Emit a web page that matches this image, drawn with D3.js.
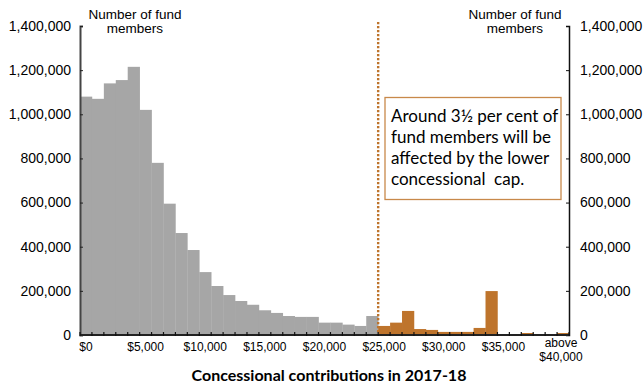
<!DOCTYPE html>
<html>
<head>
<meta charset="utf-8">
<script src="https://cdn.jsdelivr.net/npm/d3@7"></script>
<style>
  html, body { margin: 0; padding: 0; background: #fff; }
  svg { display: block; }
  text { font-family: "Liberation Sans", Arial, sans-serif; fill: #000; }
</style>
</head>
<body>
<svg id="chart" width="644" height="385"></svg>
<script>
// Contribution bins ($1,000 wide), last bin is the open-ended top bracket
const categories = [
  "$0", "$1,000", "$2,000", "$3,000", "$4,000", "$5,000", "$6,000", "$7,000", "$8,000", "$9,000",
  "$10,000", "$11,000", "$12,000", "$13,000", "$14,000", "$15,000", "$16,000", "$17,000", "$18,000", "$19,000",
  "$20,000", "$21,000", "$22,000", "$23,000", "$24,000", "$25,000", "$26,000", "$27,000", "$28,000", "$29,000",
  "$30,000", "$31,000", "$32,000", "$33,000", "$34,000", "$35,000", "$36,000", "$37,000", "$38,000", "$39,000",
  "above $40,000"
];

// Number of fund members in each bin
const members = [
  1080000, 1070000, 1140000, 1155000, 1215000, 1020000, 780000, 595000, 462000, 385000,
  285000, 222000, 181000, 154000, 137000, 112000, 100000, 86000, 82000, 82000,
  56000, 56000, 47000, 41000, 86000, 41000, 56000, 109000, 27000, 23000,
  14000, 14000, 14000, 32000, 199000, 0, 0, 9000, 4500, 0,
  9000
];

// Labelled bins on the x axis
const xTickBins = ["$0", "$5,000", "$10,000", "$15,000", "$20,000", "$25,000", "$30,000", "$35,000", "above $40,000"];
const yTicks = [0, 200000, 400000, 600000, 800000, 1000000, 1200000, 1400000];

// Bins at or above the lower concessional cap
const capBin = "$25,000";

const grey = "#a6a6a6";
const orange = "#be742c";

const svg = d3.select("#chart");
const plotLeft = 80, plotRight = 569, plotTop = 26, plotBottom = 335;

const x = d3.scaleBand().domain(categories).range([plotLeft, plotRight]).padding(0);
const y = d3.scaleLinear().domain([0, 1400000]).range([plotBottom, plotTop]);
const capIndex = categories.indexOf(capBin);

// Bars
svg.append("g").selectAll("rect")
  .data(categories.map((c, i) => ({ c, i, v: members[i] })))
  .join("rect")
  .attr("x", d => x(d.c))
  .attr("y", d => y(d.v))
  .attr("width", x.bandwidth() + 0.3)
  .attr("height", d => y(0) - y(d.v))
  .attr("fill", d => d.i >= capIndex ? orange : grey);

// Cap marker
svg.append("line")
  .attr("x1", x(capBin)).attr("x2", x(capBin))
  .attr("y1", 22).attr("y2", plotBottom)
  .attr("stroke", orange).attr("stroke-width", 2.4)
  .attr("stroke-dasharray", "2.2,1.8");

// Left y axis
const yLeft = svg.append("g").attr("transform", `translate(${plotLeft},0)`)
  .call(d3.axisRight(y).tickValues(yTicks).tickSize(3).tickFormat(""));
yLeft.select(".domain").attr("stroke", "#444").attr("stroke-width", 2);
yLeft.selectAll(".tick line").attr("stroke", "#222");
svg.append("g").selectAll("text").data(yTicks).join("text")
  .attr("x", 71).attr("y", d => y(d)).attr("dy", "0.35em")
  .attr("text-anchor", "end").style("font-size", "14px")
  .text(d3.format(","));

// Right y axis
const yRight = svg.append("g").attr("transform", `translate(${plotRight},0)`)
  .call(d3.axisLeft(y).tickValues(yTicks).tickSize(3).tickFormat(""));
yRight.select(".domain").attr("stroke", "#111").attr("stroke-width", 1.5);
yRight.selectAll(".tick line").attr("stroke", "#111");
svg.append("g").selectAll("text").data(yTicks).join("text")
  .attr("x", 580).attr("y", d => y(d)).attr("dy", "0.35em")
  .attr("text-anchor", "start").style("font-size", "14px")
  .text(d3.format(","));

// X axis: ticks at every bin edge
const edges = categories.map(c => x(c)).concat([plotRight]);
svg.append("line")
  .attr("x1", plotLeft).attr("x2", plotRight).attr("y1", plotBottom).attr("y2", plotBottom)
  .attr("stroke", "#222").attr("stroke-width", 2);
svg.append("g").selectAll("line").data(edges).join("line")
  .attr("x1", d => d).attr("x2", d => d)
  .attr("y1", plotBottom - 3).attr("y2", plotBottom + 1)
  .attr("stroke", "#111").attr("stroke-width", 1.2);

// X tick labels
const xl = svg.append("g").selectAll("text").data(xTickBins).join("text")
  .attr("x", d => x(d) + x.bandwidth() / 2)
  .attr("y", 351)
  .attr("text-anchor", "middle").style("font-size", "12px");
xl.each(function (d) {
  const t = d3.select(this);
  if (d.startsWith("above")) {
    t.attr("y", 347);
    t.append("tspan").attr("x", x(d) + x.bandwidth() / 2 - 2).text("above");
    t.append("tspan").attr("x", x(d) + x.bandwidth() / 2 - 2).attr("dy", 14).text(d.replace("above ", ""));
  } else {
    t.text(d);
  }
});

// Axis titles
function axisTitle(cx) {
  const t = svg.append("text").attr("text-anchor", "middle").style("font-size", "13.5px");
  t.append("tspan").attr("x", cx).attr("y", 19).text("Number of fund");
  t.append("tspan").attr("x", cx).attr("y", 32.5).text("members");
}
axisTitle(135);
axisTitle(515);

svg.append("text")
  .attr("x", 329).attr("y", 381)
  .attr("text-anchor", "middle")
  .style("font-family", "Lato, 'Open Sans', sans-serif")
  .style("font-weight", "bold").style("font-size", "16px")
  .text("Concessional contributions in 2017-18");

// Annotation box
svg.append("rect")
  .attr("x", 385).attr("y", 97.5).attr("width", 176).attr("height", 102)
  .attr("fill", "#fff").attr("stroke", "#c8894a").attr("stroke-width", 1.3);
const note = ["Around 3\u00bd per cent of", "fund members will be", "affected by the lower", "concessional  cap."];
svg.append("g").selectAll("text").data(note).join("text")
  .attr("x", 391).attr("y", (d, i) => 122 + i * 21)
  .style("font-family", "Lato, 'Open Sans', sans-serif")
  .style("font-size", "17px")
  .style("white-space", "pre")
  .attr("xml:space", "preserve")
  .text(d => d);
</script>
</body>
</html>
